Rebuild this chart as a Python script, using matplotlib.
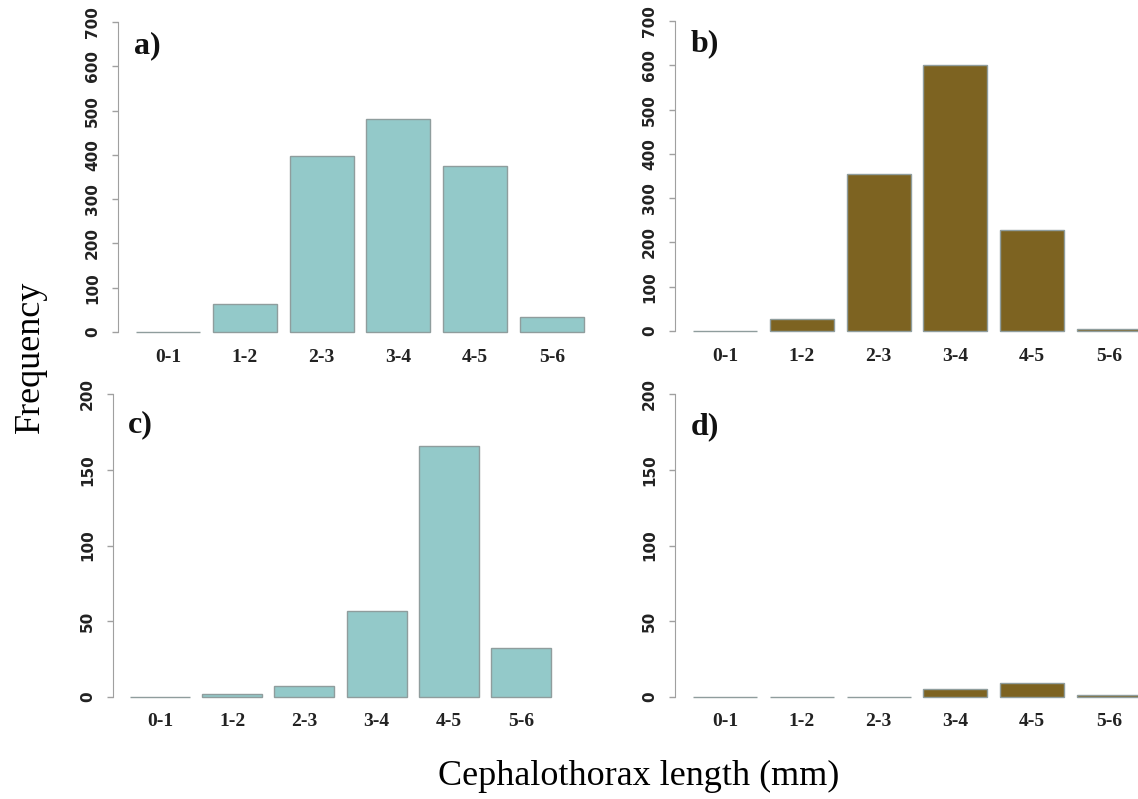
import numpy as np
import matplotlib
matplotlib.use("Agg")
from matplotlib import pyplot as plt

# size classes (cephalothorax length, mm)
classes = ["0-1", "1-2", "2-3", "3-4", "4-5", "5-6"]

# frequencies
freq_a = [1, 63, 397, 480, 375, 34]
freq_b = [0, 26, 355, 600, 228, 4]
freq_c = [0, 2, 7, 57, 166, 32]
freq_d = [0, 0, 0, 5, 9, 1]

teal = "#93c9c9"
brown = "#7d6321"

W, H = 1138, 799
fig = plt.figure(figsize=(W / 100, H / 100), dpi=100)


def add_ax(left, right, top, bottom):
    # pixel box -> figure fraction
    return fig.add_axes([left / W, 1 - bottom / H, (right - left) / W, (bottom - top) / H])


def barpanel(ax, vals, color, ymax, step, label, label_y):
    # R-style barplot: width 1, space 0.2
    x = 0.7 + 1.2 * np.arange(len(vals))
    ax.bar(x, vals, width=1.0, color=color, edgecolor="#8f9d9d", linewidth=1.0)
    ax.set_xlim(-0.08, 7.48)
    pad = 0.04 * ymax
    ax.set_ylim(-pad, ymax + pad)
    for s in ["top", "right", "bottom"]:
        ax.spines[s].set_visible(False)
    ax.spines["left"].set_bounds(0, ymax)
    ax.spines["left"].set_color("#a0a0a0")
    ax.set_yticks(np.arange(0, ymax + 1, step))
    ax.tick_params(axis="y", length=4, width=1, color="#a0a0a0", pad=9, labelsize=11)
    for t in ax.get_yticklabels():
        t.set_rotation(90)
        t.set_va("center")
        t.set_fontweight("bold")
        t.set_color("#222222")
    ax.set_xticks(x)
    ax.set_xticklabels(classes, fontfamily="Liberation Serif", fontweight="bold",
                       fontsize=14, color="#222222")
    ax.tick_params(axis="x", length=0, pad=3)
    ax.text(0.033, label_y, label, transform=ax.transAxes, fontfamily="Liberation Serif",
            fontweight="bold", fontsize=23, va="center", ha="left", color="#111111")


ax_a = add_ax(118, 602, 9.6, 344.4)
barpanel(ax_a, freq_a, teal, 700, 100, "a)", 0.893)
ax_b = add_ax(675, 1159, 8.6, 343.4)
barpanel(ax_b, freq_b, brown, 700, 100, "b)", 0.896)
ax_c = add_ax(113, 568, 382, 709)
barpanel(ax_c, freq_c, teal, 200, 50, "c)", 0.868)
ax_d = add_ax(675, 1159, 382, 709)
barpanel(ax_d, freq_d, brown, 200, 50, "d)", 0.862)

fig.text(30 / W, 1 - 357 / H, "Frequency", rotation=90, fontfamily="Liberation Serif",
         fontsize=26, ha="center", va="center")
fig.text(639 / W, 1 - 776 / H, "Cephalothorax length (mm)", fontfamily="Liberation Serif",
         fontsize=26, ha="center", va="center")

fig.savefig("out.png", dpi=100)
